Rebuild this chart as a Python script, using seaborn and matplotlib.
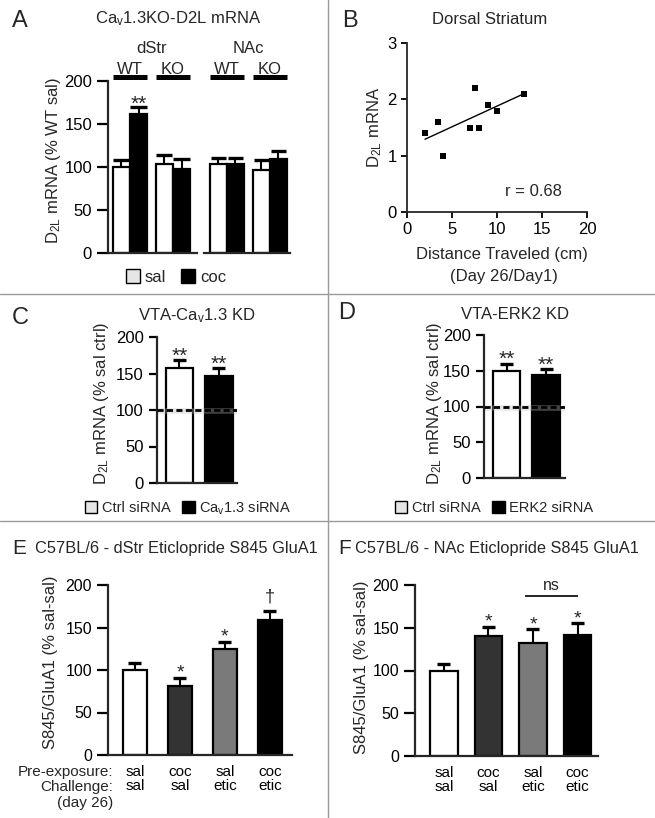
import numpy as np
import pandas as pd
import matplotlib
matplotlib.use("Agg")
import matplotlib.pyplot as plt
import seaborn as sns
from matplotlib.patches import Patch
from matplotlib.lines import Line2D

# ---------------- data ----------------
# Panel A: Cav1.3KO-D2L mRNA
a_genotypes = ["WT", "KO"]
a_treatments = ["sal", "coc"]
a_dstr_sal = [100, 104]
a_dstr_coc = [162, 98]
a_dstr_sal_sem = [8, 10]
a_dstr_coc_sem = [8, 11]
a_nac_sal = [103, 97]
a_nac_coc = [103, 109]
a_nac_sal_sem = [8, 11]
a_nac_coc_sem = [8, 10]

# Panel B: Dorsal striatum correlation
b_distance = [2.0, 3.4, 4.0, 7.0, 7.5, 8.0, 9.0, 10.0, 13.0]
b_d2l = [1.4, 1.6, 1.0, 1.5, 2.2, 1.5, 1.9, 1.8, 2.1]

# Panel C: VTA-Cav1.3 KD
c_groups = ["Ctrl siRNA", "Cav1.3 siRNA"]
c_values = [158, 147]
c_sem = [10, 10]

# Panel D: VTA-ERK2 KD
d_groups = ["Ctrl siRNA", "ERK2 siRNA"]
d_values = [150, 144]
d_sem = [10, 8]

# Panels E / F
ef_preexposure = ["sal", "coc", "sal", "coc"]
ef_challenge = ["sal", "sal", "etic", "etic"]
e_values = [100, 81, 125, 159]
e_sem = [8, 10, 8, 11]
e_annot = ["", "*", "*", "\u2020"]
f_values = [100, 140, 132, 142]
f_sem = [8, 11, 16, 13]
f_annot = ["", "*", "*", "*"]
ef_colors = ["#ffffff", "#333333", "#7a7a7a", "#000000"]

# ---------------- style ----------------
sns.set_style("ticks")
plt.rcParams["font.family"] = ["Liberation Sans", "DejaVu Sans"]
plt.rcParams["mathtext.fontset"] = "custom"
plt.rcParams["mathtext.rm"] = "Liberation Sans"
plt.rcParams["mathtext.it"] = "Liberation Sans:italic"
plt.rcParams["mathtext.bf"] = "Liberation Sans:bold"
plt.rcParams["axes.linewidth"] = 1.6

FS = 12  # main text size (pt)

W, H = 655, 818
fig = plt.figure(figsize=(W / 100, H / 100), dpi=100)
fig.patch.set_facecolor("white")


def px_ax(x0, x1, ytop, ybot):
    return fig.add_axes([x0 / W, 1 - ybot / H, (x1 - x0) / W, (ybot - ytop) / H])


def ftext(x, y, s, **kw):
    fig.text(x / W, 1 - y / H, s, **kw)


def style(ax, ticklen, size, left=True):
    for s in ["top", "right"]:
        ax.spines[s].set_visible(False)
    ax.tick_params(axis="both", direction="out", width=1.6, length=ticklen,
                   labelsize=size, colors="black")
    if not left:
        ax.spines["left"].set_visible(False)
        ax.tick_params(axis="y", left=False, labelleft=False)
    ax.set_xlabel("")
    ax.set_ylabel("")
    ax.set_facecolor("none")


def sorted_bars(ax):
    return sorted([b for c in ax.containers for b in c], key=lambda b: b.get_x())


def add_err(ax, means, sems, cap_half, capw=2.4):
    bars = sorted_bars(ax)
    xs = np.array([b.get_x() + b.get_width() / 2 for b in bars])
    means = np.array(means, float)
    tops = means + np.array(sems, float)
    ax.vlines(xs, means, tops, color="black", lw=1.5, zorder=1)
    ax.hlines(tops, xs - cap_half, xs + cap_half, color="black", lw=capw,
              zorder=4, clip_on=False)
    return xs, tops


def set_ylabel(ax, text, x0, w, right_px, ytop, ybot, center_px, size):
    ax.set_ylabel(text, fontsize=size)
    ax.yaxis.set_label_coords((right_px - x0) / w, (ybot - center_px) / (ybot - ytop))


# ---------------- Panel A ----------------
axA1 = px_ax(108, 197, 81, 253)
dfA1 = pd.DataFrame({"genotype": a_genotypes * 2,
                     "treatment": ["sal"] * 2 + ["coc"] * 2,
                     "value": a_dstr_sal + a_dstr_coc})
sns.barplot(data=dfA1, x="genotype", y="value", hue="treatment",
            order=a_genotypes, hue_order=a_treatments,
            palette={"sal": "white", "coc": "black"}, edgecolor="black",
            linewidth=1.6, width=0.8, saturation=1, errorbar=None,
            legend=False, ax=axA1)
ticksA1 = axA1.get_xticks()
axA1.set_xlim(-0.51, 1.56)
axA1.set_ylim(0, 200)
axA1.set_yticks([0, 50, 100, 150, 200])
style(axA1, 8, FS)
axA1.tick_params(axis="x", bottom=False, labelbottom=False)
mA1 = [a_dstr_sal[0], a_dstr_coc[0], a_dstr_sal[1], a_dstr_coc[1]]
sA1 = [a_dstr_sal_sem[0], a_dstr_coc_sem[0], a_dstr_sal_sem[1], a_dstr_coc_sem[1]]
xsA1, topsA1 = add_err(axA1, mA1, sA1, 0.19)
axA1.text(xsA1[1], topsA1[1] - 3, "**", ha="center", va="baseline", fontsize=15)
set_ylabel(axA1, r"D$_{\mathrm{2L}}$ mRNA (% WT sal)", 108, 89, 63, 81, 253, 161, FS)

axA2 = px_ax(204, 290, 81, 253)
dfA2 = pd.DataFrame({"genotype": a_genotypes * 2,
                     "treatment": ["sal"] * 2 + ["coc"] * 2,
                     "value": a_nac_sal + a_nac_coc})
sns.barplot(data=dfA2, x="genotype", y="value", hue="treatment",
            order=a_genotypes, hue_order=a_treatments,
            palette={"sal": "white", "coc": "black"}, edgecolor="black",
            linewidth=1.6, width=0.8, saturation=1, errorbar=None,
            legend=False, ax=axA2)
ticksA2 = axA2.get_xticks()
axA2.set_xlim(-0.53, 1.47)
axA2.set_ylim(0, 200)
style(axA2, 8, FS, left=False)
axA2.tick_params(axis="x", bottom=False, labelbottom=False)
mA2 = [a_nac_sal[0], a_nac_coc[0], a_nac_sal[1], a_nac_coc[1]]
sA2 = [a_nac_sal_sem[0], a_nac_coc_sem[0], a_nac_sal_sem[1], a_nac_coc_sem[1]]
add_err(axA2, mA2, sA2, 0.17)

for ax, ticks, region in [(axA1, ticksA1, "dStr"), (axA2, ticksA2, "NAc")]:
    for t, g in zip(ticks, a_genotypes):
        ax.hlines(204.5, t - 0.4, t + 0.4, color="black", lw=3.6, clip_on=False)
        ax.text(t, 208.5, g, ha="center", va="baseline", fontsize=FS, clip_on=False)
    ax.text(np.mean(ticks), 233, region, ha="center", va="baseline", fontsize=FS,
            clip_on=False)

ftext(20, 21, "A", fontsize=17, ha="center", va="center")
ftext(178, 19, r"Ca$_{\mathrm{v}}$1.3KO-D2L mRNA", fontsize=FS, ha="center", va="center")
fig.legend(handles=[Patch(facecolor="#e6e6e6", edgecolor="black", lw=1, label="sal"),
                    Patch(facecolor="black", edgecolor="black", lw=1, label="coc")],
           loc="center", bbox_to_anchor=(176 / W, 1 - 277 / H), ncol=2,
           frameon=False, fontsize=FS, handlelength=0.85, handleheight=0.85,
           handletextpad=0.3, columnspacing=0.9)

# ---------------- Panel B ----------------
axB = px_ax(407, 587, 43, 212)
sns.regplot(x=b_distance, y=b_d2l, scatter=False, ci=None, truncate=True,
            line_kws=dict(color="black", lw=1.0), ax=axB)
sns.scatterplot(x=b_distance, y=b_d2l, marker="s", s=16, color="black",
                linewidth=0, ax=axB, zorder=3)
axB.set_xlim(0, 20)
axB.set_ylim(0, 3)
axB.set_xticks([0, 5, 10, 15, 20])
axB.set_yticks([0, 1, 2, 3])
style(axB, 4, FS)
axB.tick_params(width=1.3)
for s in ["left", "bottom"]:
    axB.spines[s].set_linewidth(1.3)
set_ylabel(axB, r"D$_{\mathrm{2L}}$ mRNA", 407, 180, 384, 43, 212, 127.5, FS)
r_val = np.corrcoef(b_distance, b_d2l)[0, 1]
axB.text(0.70, 0.12, f"r = {r_val:.2f}", transform=axB.transAxes, ha="center",
         va="center", fontsize=FS)
ftext(350, 21, "B", fontsize=17, ha="center", va="center")
ftext(490, 19, "Dorsal Striatum", fontsize=FS, ha="center", va="center")
ftext(502, 255, "Distance Traveled (cm)", fontsize=FS, ha="center", va="center")
ftext(504, 277, "(Day 26/Day1)", fontsize=FS, ha="center", va="center")


# ---------------- Panels C / D ----------------
def kd_panel(x0, x1, ytop, ybot, groups, values, sems, xlim, ylabel_right, ylabel_center):
    ax = px_ax(x0, x1, ytop, ybot)
    df = pd.DataFrame({"group": groups, "value": values})
    sns.barplot(data=df, x="group", y="value", hue="group", order=groups,
                hue_order=groups, palette=["white", "black"], edgecolor="black",
                linewidth=1.6, width=0.7, saturation=1, errorbar=None,
                legend=False, ax=ax)
    ax.set_xlim(*xlim)
    ax.set_ylim(0, 200)
    ax.set_yticks([0, 50, 100, 150, 200])
    style(ax, 6, FS)
    ax.tick_params(axis="x", bottom=False, labelbottom=False)
    ppu = (x1 - x0) / (xlim[1] - xlim[0])
    xs, tops = add_err(ax, values, sems, 6.5 / ppu)
    for x, t in zip(xs, tops):
        ax.text(x, t - 2, "**", ha="center", va="baseline", fontsize=15)
    ax.axhline(98, color="#bbbbbb", lw=4, alpha=0.35, zorder=2)
    ax.axhline(100, color="black", lw=2.0, ls=(0, (2.2, 1.2)), zorder=5)
    set_ylabel(ax, r"D$_{\mathrm{2L}}$ mRNA (% sal ctrl)", x0, x1 - x0,
               ylabel_right, ytop, ybot, ylabel_center, FS)
    return ax


axC = kd_panel(157, 237, 337, 483, c_groups, c_values, c_sem, (-0.57, 1.46), 111, 403)
axD = kd_panel(484, 565, 335, 478, d_groups, d_values, d_sem, (-0.57, 1.48), 444, 403)

ftext(20, 318, "C", fontsize=17, ha="center", va="center")
ftext(197, 316, r"VTA-Ca$_{\mathrm{v}}$1.3 KD", fontsize=FS, ha="center", va="center")
ftext(347, 313, "D", fontsize=17, ha="center", va="center")
ftext(515, 314, "VTA-ERK2 KD", fontsize=FS, ha="center", va="center")

fig.legend(handles=[Patch(facecolor="#e6e6e6", edgecolor="black", lw=1, label=c_groups[0]),
                    Patch(facecolor="black", edgecolor="black", lw=1,
                          label=r"Ca$_{\mathrm{v}}$1.3 siRNA")],
           loc="center", bbox_to_anchor=(188 / W, 1 - 508 / H), ncol=2,
           frameon=False, fontsize=10.5, handlelength=0.85, handleheight=0.85,
           handletextpad=0.3, columnspacing=0.8)
fig.legend(handles=[Patch(facecolor="#e6e6e6", edgecolor="black", lw=1, label=d_groups[0]),
                    Patch(facecolor="black", edgecolor="black", lw=1, label=d_groups[1])],
           loc="center", bbox_to_anchor=(494 / W, 1 - 508 / H), ncol=2,
           frameon=False, fontsize=10.5, handlelength=0.85, handleheight=0.85,
           handletextpad=0.3, columnspacing=0.8)


# ---------------- Panels E / F ----------------
def ef_panel(x0, x1, ytop, ybot, values, sems, annots, xlim, width, ylabel_right, ylabel_center):
    ax = px_ax(x0, x1, ytop, ybot)
    cats = [f"{p}\n{c}" for p, c in zip(ef_preexposure, ef_challenge)]
    df = pd.DataFrame({"cond": cats, "value": values})
    sns.barplot(data=df, x="cond", y="value", hue="cond", order=cats,
                hue_order=cats, palette=ef_colors, edgecolor="black",
                linewidth=1.6, width=width, saturation=1, errorbar=None,
                legend=False, ax=ax)
    ax.set_xlim(*xlim)
    ax.set_ylim(0, 200)
    ax.set_yticks([0, 50, 100, 150, 200])
    style(ax, 8, 11.5)
    ax.tick_params(axis="x", length=0, pad=7, labelsize=11)
    for lbl in ax.get_xticklabels():
        lbl.set_linespacing(1.0)
    ppu = (x1 - x0) / (xlim[1] - xlim[0])
    xs, tops = add_err(ax, values, sems, 6.5 / ppu)
    for x, t, a in zip(xs, tops, annots):
        if a == "*":
            ax.text(x, t, a, ha="center", va="baseline", fontsize=14)
        elif a:
            ax.text(x, t + 11, a, ha="center", va="baseline", fontsize=13)
    set_ylabel(ax, "S845/GluA1 (% sal-sal)", x0, x1 - x0, ylabel_right, ytop, ybot,
               ylabel_center, FS)
    return ax, xs


axE, xsE = ef_panel(108, 292, 585, 755, e_values, e_sem, e_annot, (-0.6, 3.49), 0.53, 58, 662)
axF, xsF = ef_panel(415, 598, 585, 756, f_values, f_sem, f_annot, (-0.65, 3.46), 0.62, 369, 667)
axF.hlines(187, xsF[2] - 0.18, xsF[3], color="black", lw=1.2, clip_on=False)
axF.text((xsF[2] - 0.18 + xsF[3]) / 2, 194, "ns", ha="center", va="baseline",
         fontsize=11.5, clip_on=False)

ftext(113, 772, "Pre-exposure:", fontsize=11, ha="right", va="center")
ftext(113, 787, "Challenge:", fontsize=11, ha="right", va="center")
ftext(85, 803, "(day 26)", fontsize=11, ha="center", va="center")

ftext(19, 549, "E", fontsize=15, ha="center", va="center")
ftext(35, 549, "C57BL/6 - dStr Eticlopride S845 GluA1", fontsize=11.8, ha="left", va="center")
ftext(345, 548, "F", fontsize=15, ha="center", va="center")
ftext(355, 548, "C57BL/6 - NAc Eticlopride S845 GluA1", fontsize=11.8, ha="left", va="center")

# ---------------- separators ----------------
sep = dict(color="#9a9a9a", lw=1.0)
fig.add_artist(Line2D([0, 1], [1 - 294 / H] * 2, transform=fig.transFigure, **sep))
fig.add_artist(Line2D([0, 1], [1 - 521 / H] * 2, transform=fig.transFigure, **sep))
fig.add_artist(Line2D([328 / W] * 2, [0, 1], transform=fig.transFigure, **sep))

fig.savefig("out.png", dpi=100, facecolor="white")
